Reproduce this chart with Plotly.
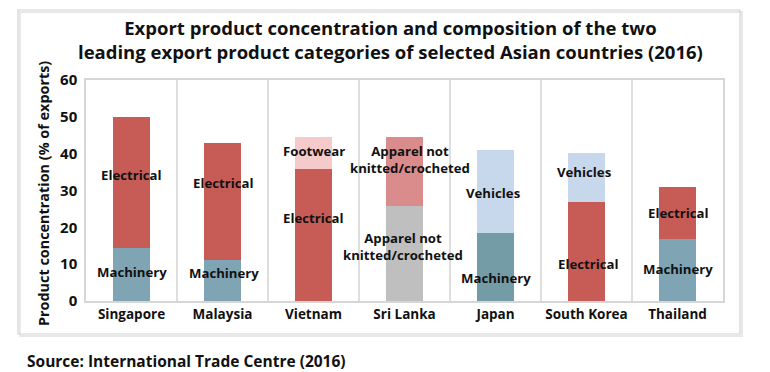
import plotly.graph_objects as go

countries = ["Singapore", "Malaysia", "Vietnam", "Sri Lanka", "Japan", "South Korea", "Thailand"]
lower_values = [14.5, 11.2, 35.8, 25.8, 18.5, 27.0, 16.8]
upper_values = [35.5, 31.6, 8.6, 18.6, 22.6, 13.3, 14.2]
lower_labels = ["Machinery", "Machinery", "Electrical", "Apparel not<br>knitted/crocheted",
                "Machinery", "Electrical", "Machinery"]
upper_labels = ["Electrical", "Electrical", "Footwear", "Apparel not<br>knitted/crocheted",
                "Vehicles", "Vehicles", "Electrical"]
y_ticks = [0, 10, 20, 30, 40, 50, 60]

# styling / label placement
lower_colors = ["#7fa4b4", "#7fa4b4", "#c75c57", "#bfbfbf", "#739ca6", "#c75c57", "#7fa4b4"]
upper_colors = ["#c75c57", "#c75c57", "#f5caca", "#d98c8b", "#c8d8ec", "#c8d8ec", "#c75c57"]
lower_label_y = [7.8, 7.6, 22.5, 14.9, 6.2, 10.0, 8.6]
upper_label_y = [34.3, 32.0, 40.8, 38.3, 29.3, 35.1, 23.9]
lower_label_dx = [0, 1, 0, -2, 0, 2, 0]
upper_label_dx = [0, 1, 0, 5, -2, -2, 1]

FONT = "Open Sans"
# the page body has an 8px margin, so the figure is 8px smaller and offset
W, H = 762, 364


def px(xr):
    return (xr - 86) / 637


def py(yr):
    return (301 - yr) / 221


fig = go.Figure()
fig.add_trace(go.Bar(x=countries, y=lower_values, marker_color=lower_colors,
                     marker_line_width=0, width=0.4, hoverinfo="skip"))
fig.add_trace(go.Bar(x=countries, y=upper_values, marker_color=upper_colors,
                     marker_line_width=0, width=0.4, hoverinfo="skip"))

lab_font = dict(family=FONT, size=13.2, color="#111", weight="bold")
ann = []
for i, c in enumerate(countries):
    ann.append(dict(x=c, y=lower_label_y[i], text=lower_labels[i], showarrow=False,
                    xshift=lower_label_dx[i], font=lab_font))
    ann.append(dict(x=c, y=upper_label_y[i], text=upper_labels[i], showarrow=False,
                    xshift=upper_label_dx[i], font=lab_font))

ann.append(dict(xref="paper", yref="paper", x=px(390), y=py(39),
                text="Export product concentration and composition of the two<br>"
                     "leading export product categories of selected Asian countries (2016)",
                showarrow=False, xanchor="center", yanchor="middle",
                font=dict(family=FONT, size=18.5, color="#111", weight="bold")))
ann.append(dict(xref="paper", yref="paper", x=px(43), y=py(194),
                text="Product concentration (% of exports)", textangle=-90,
                showarrow=False, xanchor="center", yanchor="middle",
                font=dict(family=FONT, size=14.4, color="#111", weight="bold")))
ann.append(dict(xref="paper", yref="paper", x=px(25), y=py(361),
                text="Source: International Trade Centre (2016)",
                showarrow=False, xanchor="left", yanchor="middle",
                font=dict(family=FONT, size=15.5, color="#111", weight="bold")))

shapes = [
    dict(type="rect", xref="paper", yref="paper", layer="below",
         x0=px(20), x1=px(742), y0=py(336), y1=py(12),
         line=dict(color="#e8e8e8", width=2)),
    dict(type="rect", xref="paper", yref="paper", layer="below",
         x0=px(18), x1=px(740), y0=py(334), y1=py(10),
         line=dict(color="#d2d2d2", width=1.2)),
]

fig.update_layout(
    barmode="stack",
    width=W, height=H,
    margin=dict(l=86 - 8, r=W - (723 - 8), t=80 - 8, b=H - (301 - 8)),
    paper_bgcolor="white", plot_bgcolor="white",
    showlegend=False,
    annotations=ann,
    shapes=shapes,
    xaxis=dict(type="category", tickson="boundaries", showgrid=True, gridcolor="#dedede",
               gridwidth=2, ticks="", showline=True, linecolor="#d6d6d6", linewidth=1.5,
               mirror=True,
               tickfont=dict(family=FONT, size=13.5, color="#111", weight="bold")),
    yaxis=dict(range=[0, 60], tickvals=y_ticks, showgrid=False, zeroline=False,
               showline=True, linecolor="#d6d6d6", linewidth=1.5, mirror=True,
               ticks="", ticklabelstandoff=4,
               tickfont=dict(family=FONT, size=15, color="#111", weight="bold")),
)

fig.write_html("out.html")
